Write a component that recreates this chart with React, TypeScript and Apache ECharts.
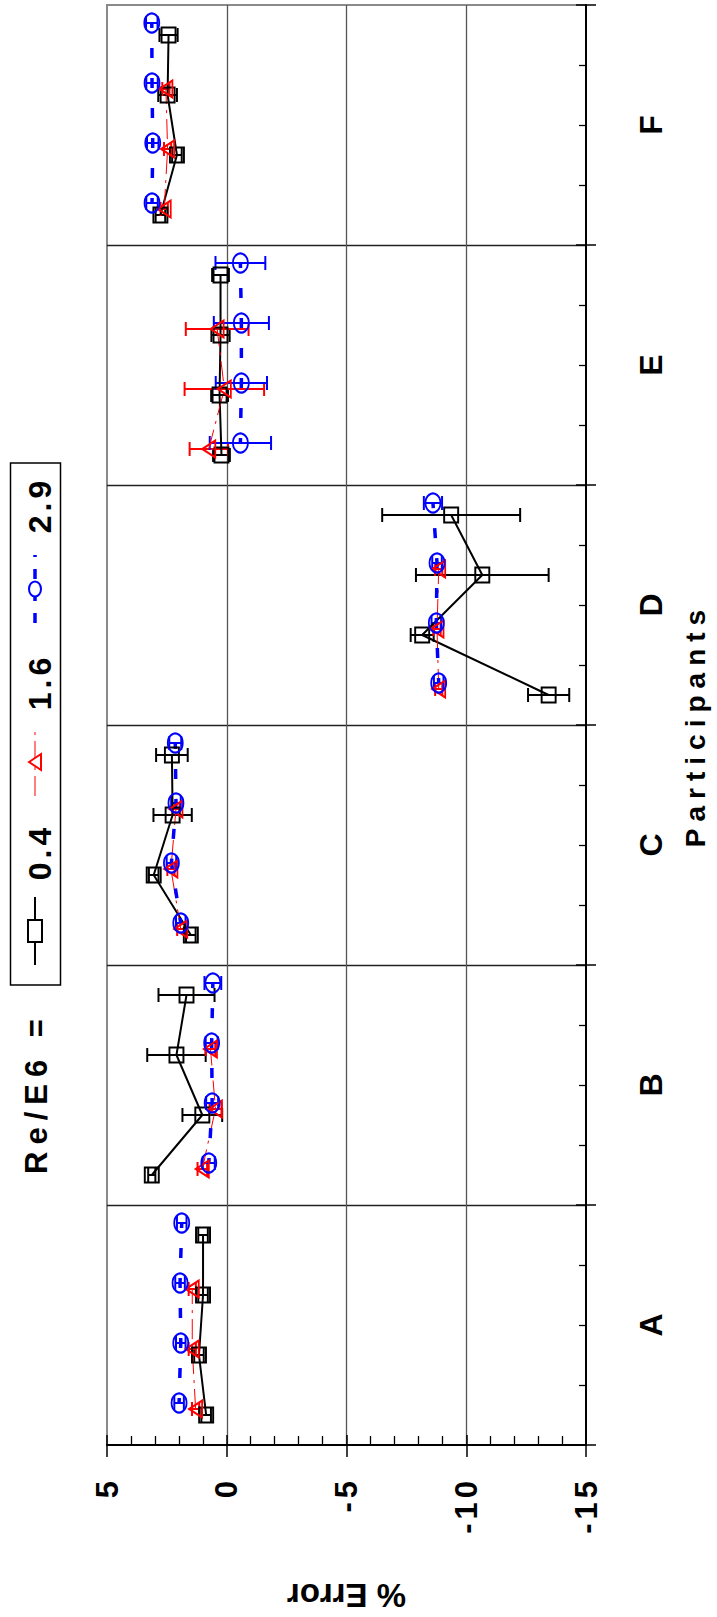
import React, { useEffect, useRef } from "react";
import * as echarts from "echarts";

// Participants along the run axis (A at the bottom), four runs each
const participants = ["A", "B", "C", "D", "E", "F"];
const reynolds = ["0.4", "1.6", "2.9"];
const errorTicks = ["5", "0", "-5", "-10", "-15"];

// % Error per run, Re/E6 = 0.4 (runs 1..4 for A, then B, ...)
const pctRe04 = [
  0.86, 1.16, 0.99, 0.99,
  3.13, 1.02, 2.1, 1.68,
  1.5, 3.05, 2.26, 2.29,
  -13.44, -8.16, -10.67, -9.37,
  0.22, 0.3, 0.26, 0.26,
  2.77, 2.08, 2.47, 2.43,
];
const barRe04 = [
  0.2, 0.2, 0.2, 0.2,
  0.15, 0.83, 1.22, 1.17,
  0.2, 0.2, 0.8, 0.66,
  0.86, 0.48, 2.77, 2.88,
  0.35, 0.35, 0.38, 0.35,
  0.2, 0.2, 0.39, 0.38,
];
// Re/E6 = 1.6 only has three runs per participant
const pctRe16 = [
  1.3, 1.44, 1.44, null,
  1.02, 0.47, 0.68, null,
  1.92, 2.33, 2.12, null,
  -8.85, -8.78, -8.85, null,
  0.75, 0.1, 0.4, null,
  2.61, 2.47, 2.54, null,
];
const barRe16 = [
  0.15, 0.15, 0.15, null,
  0.2, 0.25, 0.2, null,
  0.15, 0.15, 0.15, null,
  0.15, 0.15, 0.15, null,
  0.8, 1.66, 1.31, null,
  0.15, 0.15, 0.15, null,
];
const pctRe29 = [
  1.99, 1.92, 1.95, 1.88,
  0.75, 0.61, 0.63, 0.58,
  1.92, 2.31, 2.12, 2.15,
  -8.85, -8.75, -8.78, -8.61,
  -0.57, -0.61, -0.61, -0.57,
  3.12, 3.09, 3.12, 3.13,
];
const barRe29 = [
  0.2, 0.2, 0.2, 0.2,
  0.25, 0.25, 0.25, 0.35,
  0.2, 0.2, 0.2, 0.25,
  0.2, 0.2, 0.2, 0.38,
  1.28, 1.07, 1.15, 1.04,
  0.24, 0.24, 0.24, 0.24,
];

const RUNS = 4;
const FONT = "Liberation Sans, Arial, Helvetica, sans-serif";
// The leading alias only serves as a hook for the letter-spacing rules below
const spaced = (px: number) => `ls${px}, ${FONT}`;

type Num = number | null;

// [value, run position] pairs, with a break after every participant
function lineData(values: Num[], shift: number) {
  const out: (number | null)[][] = [];
  participants.forEach((_, p) => {
    for (let k = 0; k < RUNS; k++) {
      const i = p * RUNS + k;
      const v = values[i];
      if (v != null) out.push([v, i + 0.5 + shift]);
    }
    if (p < participants.length - 1) out.push([null, null]);
  });
  return out;
}

function barData(values: Num[], bars: Num[], shift: number) {
  const out: number[][] = [];
  values.forEach((v, i) => {
    const e = bars[i];
    if (v != null && e != null) out.push([v, i + 0.5 + shift, e]);
  });
  return out;
}

function errorBars(name: string, color: string, values: Num[], bars: Num[], shift: number) {
  return {
    name,
    type: "custom",
    xAxisIndex: 0,
    yAxisIndex: 0,
    silent: true,
    encode: { x: 0, y: 1 },
    data: barData(values, bars, shift),
    renderItem: (_params: any, api: any) => {
      const v = api.value(0);
      const s = api.value(1);
      const e = api.value(2);
      const a = api.coord([v - e, s]);
      const b = api.coord([v + e, s]);
      const style = { stroke: color, lineWidth: 2 };
      const cap = 7;
      return {
        type: "group",
        children: [
          { type: "line", shape: { x1: a[0], y1: a[1], x2: b[0], y2: b[1] }, style },
          { type: "line", shape: { x1: a[0], y1: a[1] - cap, x2: a[0], y2: a[1] + cap }, style },
          { type: "line", shape: { x1: b[0], y1: b[1] - cap, x2: b[0], y2: b[1] + cap }, style },
        ],
      };
    },
  };
}

function legendGraphics() {
  const cx = 35;
  const textX = 40;
  const items = [
    { label: reynolds[0], color: "#000000", y: 931, textY: 852, width: 2, dash: null as number[] | null },
    { label: reynolds[1], color: "#ff0000", y: 762, textY: 682, width: 1, dash: [20, 6, 3, 6] },
    { label: reynolds[2], color: "#0000ff", y: 589, textY: 505, width: 3.5, dash: [10, 12] },
  ];
  const els: any[] = [
    {
      type: "rect",
      shape: { x: 10.5, y: 463, width: 50, height: 522 },
      style: { fill: "#ffffff", stroke: "#000000", lineWidth: 1.5 },
    },
  ];
  items.forEach((it, idx) => {
    els.push({
      type: "line",
      shape: { x1: cx, y1: it.y + 34, x2: cx, y2: it.y - 34 },
      style: { stroke: it.color, lineWidth: it.width, lineDash: it.dash || undefined },
    });
    if (idx === 0) {
      els.push({
        type: "rect",
        shape: { x: cx - 7, y: it.y - 11, width: 14, height: 22 },
        style: { fill: "#ffffff", stroke: it.color, lineWidth: 2 },
      });
    } else if (idx === 1) {
      els.push({
        type: "polygon",
        shape: { points: [[cx - 6, it.y], [cx + 6, it.y - 8], [cx + 6, it.y + 8]] },
        style: { fill: "#ffffff", stroke: it.color, lineWidth: 2 },
      });
    } else {
      els.push({
        type: "ellipse",
        shape: { cx, cy: it.y, rx: 6, ry: 7.5 },
        style: { fill: "#ffffff", stroke: it.color, lineWidth: 2 },
      });
    }
    els.push({
      type: "text",
      x: textX,
      y: it.textY,
      rotation: Math.PI / 2,
      style: {
        text: it.label,
        fill: "#000000",
        fontSize: 32,
        fontWeight: "bold",
        fontFamily: spaced(4),
        align: "center",
        verticalAlign: "middle",
      },
    });
  });
  els.push({
    type: "text",
    x: 36,
    y: 1093,
    rotation: Math.PI / 2,
    style: {
      text: "Re/E6 =",
      fill: "#000000",
      fontSize: 31,
      fontWeight: "bold",
      fontFamily: spaced(7),
      align: "center",
      verticalAlign: "middle",
    },
  });
  return els;
}

function buildOption() {
  const slots = participants.length * RUNS;
  const valueAxisBase = {
    type: "value",
    min: -15,
    max: 5,
    interval: 5,
    inverse: true,
    position: "bottom",
  };
  const runAxisBase = {
    type: "value",
    min: 0,
    max: slots,
    position: "right",
  };
  return {
    animation: false,
    backgroundColor: "#ffffff",
    grid: {
      left: 107,
      right: 127,
      top: 5,
      bottom: 166,
      show: true,
      borderColor: "#8a8a8a",
      borderWidth: 2,
    },
    xAxis: [
      {
        ...valueAxisBase,
        name: "% Error",
        nameLocation: "middle",
        nameRotate: 180,
        nameGap: 134,
        nameTextStyle: { fontSize: 33, fontWeight: "bold", fontFamily: FONT, color: "#000" },
        axisLine: { show: true, onZero: false, lineStyle: { color: "#000", width: 2 } },
        axisTick: { show: true, inside: false, length: 12, lineStyle: { color: "#000", width: 1.5 } },
        axisLabel: {
          rotate: 90,
          margin: 32,
          padding: [10, 0, 0, 0],
          fontSize: 31,
          fontWeight: "bold",
          fontFamily: spaced(4),
          color: "#000",
          formatter: (v: number) => errorTicks[errorTicks.indexOf(String(v))] ?? String(v),
        },
        splitLine: {
          show: true,
          showMinLine: false,
          showMaxLine: false,
          lineStyle: { color: "#555", width: 1.3 },
        },
      },
      {
        ...valueAxisBase,
        axisLine: { show: false, onZero: false },
        axisTick: { show: true, inside: true, length: 10, lineStyle: { color: "#000", width: 1.5 } },
        minorTick: { show: true, splitNumber: 5, length: 9, lineStyle: { color: "#000", width: 1.3 } },
        axisLabel: { show: false },
        splitLine: { show: false },
      },
    ],
    yAxis: [
      {
        ...runAxisBase,
        interval: RUNS,
        axisLine: { show: true, onZero: false, lineStyle: { color: "#000", width: 2 } },
        axisTick: { show: true, inside: false, length: 10, lineStyle: { color: "#000", width: 1.5 } },
        axisLabel: { show: false },
        splitLine: {
          show: true,
          showMinLine: false,
          showMaxLine: false,
          lineStyle: { color: "#222", width: 1.3 },
        },
      },
      {
        ...runAxisBase,
        interval: RUNS,
        axisLine: { show: false, onZero: false },
        axisTick: { show: true, inside: true, length: 10, lineStyle: { color: "#000", width: 1.5 } },
        minorTick: { show: true, splitNumber: RUNS, length: 7, lineStyle: { color: "#000", width: 1.3 } },
        axisLabel: { show: false },
        splitLine: { show: false },
      },
      {
        ...runAxisBase,
        interval: RUNS / 2,
        name: "Participants",
        nameLocation: "middle",
        nameRotate: 90,
        nameGap: 95,
        nameTextStyle: { fontSize: 28, fontWeight: "bold", fontFamily: spaced(7), color: "#000" },
        axisLine: { show: false, onZero: false },
        axisTick: { show: false },
        splitLine: { show: false },
        axisLabel: {
          rotate: 90,
          margin: 49,
          fontSize: 32,
          fontWeight: "bold",
          fontFamily: FONT,
          color: "#000",
          formatter: (v: number) => (v % RUNS === RUNS / 2 ? participants[(v - RUNS / 2) / RUNS] : ""),
        },
      },
    ],
    graphic: legendGraphics(),
    series: [
      errorBars("bars 0.4", "#000000", pctRe04, barRe04, 0),
      {
        name: reynolds[0],
        type: "line",
        xAxisIndex: 0,
        yAxisIndex: 0,
        silent: true,
        data: lineData(pctRe04, 0),
        symbol: "rect",
        symbolSize: [14, 15],
        lineStyle: { color: "#000000", width: 2 },
        itemStyle: { color: "rgba(255,255,255,0)", borderColor: "#000000", borderWidth: 2 },
      },
      errorBars("bars 1.6", "#ff0000", pctRe16, barRe16, 0.1),
      {
        name: reynolds[1],
        type: "line",
        xAxisIndex: 0,
        yAxisIndex: 0,
        silent: true,
        data: lineData(pctRe16, 0.1),
        symbol: "triangle",
        symbolRotate: 90,
        symbolSize: [17, 13],
        lineStyle: { color: "#ff0000", width: 1, type: [20, 6, 3, 6] },
        itemStyle: { color: "rgba(255,255,255,0)", borderColor: "#ff0000", borderWidth: 2 },
      },
      errorBars("bars 2.9", "#0000ff", pctRe29, barRe29, 0.2),
      {
        name: reynolds[2],
        type: "line",
        xAxisIndex: 0,
        yAxisIndex: 0,
        silent: true,
        data: lineData(pctRe29, 0.2),
        symbol: "circle",
        symbolSize: [15, 19],
        lineStyle: { color: "#0000ff", width: 3.5, type: [10, 20], dashOffset: 5 },
        itemStyle: { color: "rgba(255,255,255,0)", borderColor: "#0000ff", borderWidth: 2 },
      },
    ],
  };
}

const spacingCss = [3, 4, 7, 8]
  .map((px) => `text[style*="ls${px}"]{letter-spacing:${px}px;}`)
  .join("\n");

export default function App() {
  const ref = useRef<HTMLDivElement>(null);
  useEffect(() => {
    document.body.style.margin = "0";
    if (!ref.current) return;
    const chart = echarts.init(ref.current, null, { renderer: "svg" });
    chart.setOption(buildOption() as any);
    return () => chart.dispose();
  }, []);
  return (
    <>
      <style>{spacingCss}</style>
      <div ref={ref} style={{ width: 717, height: 1617, background: "#fff" }} />
    </>
  );
}
